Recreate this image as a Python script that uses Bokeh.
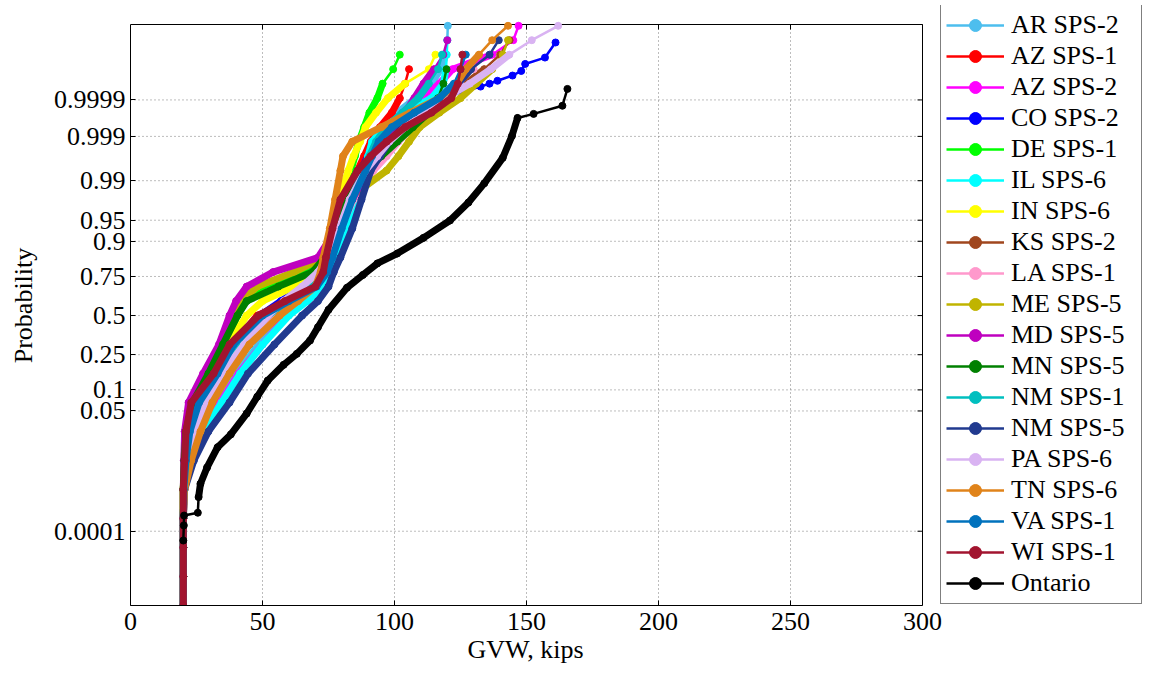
from statistics import NormalDist
from bokeh.plotting import figure
from bokeh.models import FixedTicker, Legend, LegendItem, Range1d, Title
from bokeh.embed import file_html
from bokeh.resources import INLINE

# ---------------- data ----------------
# probability levels at which the GVW values of each series were read
P_LEVELS = [2.87e-7, 3.4e-6, 3.17e-5, 2.33e-4, 0.00135, 0.00621, 0.02275, 0.06681,
            0.15866, 0.30854, 0.5, 0.59871, 0.69146, 0.77337, 0.84134, 0.93319,
            0.97725, 0.99379, 0.99702, 0.99865, 0.999423, 0.999767, 0.9999116,
            0.9999683, 0.9999893, 0.9999966, 0.99999898, 0.99999971]

AR_SPS2 = [20, 20, 20, 20, 20.3, 22.5, 26.5, 33, 40, 48.5, 58, 65, 71, 75, 77.5, 81, 84.5, 88, 90, 92.5, 96, 101, 108, 114, 117.5, 119.5, 120, 120.2]
AZ_SPS1 = [20, 20, 20, 20, 20.2, 21.5, 23.5, 27, 32.5, 39, 48, 61, 69, 73, 75, 78.5, 82, 86, 88.5, 91, 94.5, 99, 102, 104, 105.5]
AZ_SPS2 = [20, 20, 20, 20, 20.3, 22.5, 27, 34, 41, 50, 59.5, 66, 72, 75.5, 78, 81.5, 85.5, 89.5, 92, 95, 99, 103, 110, 117, 122, 137, 145, 147]
CO_SPS2 = [20, 20, 20, 20, 20.2, 21.5, 24, 28.5, 34, 41, 49, 57, 66, 72, 75.5, 79.5, 83, 87, 90, 93.5, 99, 107, 118]
CO_SPS2_TAIL_GVW = [132.6, 136, 139, 144.7, 148, 149.5, 157, 161]
CO_SPS2_TAIL_P = [0.9999608, 0.9999683, 0.9999743, 0.9999826, 0.9999877, 0.99999286, 0.9999957, 0.99999876]
DE_SPS1 = [20, 20, 20, 20, 20, 20.3, 20.8, 23, 29.5, 35.5, 40.5, 43.5, 50, 65, 73, 76.5, 80, 83.5, 85, 86.5, 88.5, 90.5, 93.5, 95.5, 99.5, 102]
IL_SPS6 = [20, 20, 20, 20, 20.3, 22.5, 27.5, 34.5, 41.5, 50, 60, 67, 73, 76, 78, 81.5, 85, 88.5, 90, 91.5, 96, 104, 114, 118.5, 119.5, 119.8, 120]
IN_SPS6 = [20, 20, 20, 20, 20, 20.5, 21.5, 24.5, 31, 37, 44, 50, 62, 70, 73.5, 76.5, 79, 82.5, 84.5, 87, 89, 93, 97.5, 104, 113, 115.5]
KS_SPS2 = [20, 20, 20, 20, 20.3, 22, 24.5, 29, 36.5, 45, 54, 61, 67.5, 73, 76, 79.5, 83, 88, 93, 98, 104, 111, 119, 127, 134, 140, 143.6]
LA_SPS1 = [20, 20, 20, 20, 20.3, 22, 24.5, 29, 35.5, 44, 53, 59, 66, 72, 75.5, 79.5, 84.5, 92, 97, 101.5, 107, 113, 119, 125, 130]
ME_SPS5 = [20, 20, 20, 20, 20, 20.3, 20.8, 22.5, 28.5, 34, 39, 42, 48, 62, 73, 77, 82, 97, 101.5, 105.5, 109.5, 117, 125, 131, 137, 141, 143]
MD_SPS5 = [20, 20, 20, 20, 20, 20.2, 20.5, 22, 27.5, 33.5, 37.5, 40, 44, 54, 71, 78, 84, 90, 93.5, 96.5, 100, 104, 107.5, 111, 115, 118.5, 120]
MN_SPS5 = [20, 20, 20, 20, 20, 20.4, 21, 23.5, 29.5, 35, 40.5, 44, 56, 69, 73.5, 77, 81, 89, 95, 101, 107, 113, 116.5, 118.5, 119.7]
NM_SPS1 = [20, 20, 20, 20, 20.2, 21.5, 24.5, 29.5, 35.5, 42, 52, 60, 69, 74, 76, 79.5, 83.5, 88, 90.5, 93, 97, 103, 109, 113, 116.5, 118]
NM_SPS5 = [20, 20, 20, 20, 20.5, 24, 29.5, 37.5, 44.5, 54.5, 65, 71, 75, 77, 79.5, 84, 87.5, 91, 94.5, 98, 103, 110, 118, 124, 129, 136, 139.5]
PA_SPS6 = [20, 20, 20, 20, 20.3, 22, 24.5, 28.5, 34.5, 43, 52, 58, 65, 71, 74.5, 79, 83, 89, 93.5, 98, 104, 112, 119, 128.5, 136.5, 143.5, 152, 162]
TN_SPS6 = [20, 20, 20, 20, 20.5, 23, 26.5, 31, 37.5, 45, 56.5, 63.5, 70, 72, 73, 75.5, 77.5, 79.5, 80.5, 84, 95, 106, 117, 123.5, 127, 132, 137, 143]
VA_SPS1 = [20, 20, 20, 20, 20.2, 21, 22.5, 26, 33, 39, 50, 60, 70.5, 74.5, 76.5, 80, 84, 89, 91.5, 94, 99, 107.5, 117, 122.5, 125, 127]
WI_SPS1 = [20, 20, 20, 20, 20, 20.5, 21, 23, 31.5, 37.5, 48.5, 58.5, 70, 73, 74, 76.5, 79.5, 86, 91, 97, 104, 114, 121.5, 124, 125, 125.7]

ONTARIO_GVW = [20, 20.2, 20.3, 25.5, 25.8, 26.5, 29, 33, 38, 44, 48, 52, 58, 63, 68, 71, 75, 82, 88,
               93.5, 101, 111, 121, 128, 134, 141, 144.5, 146.6, 152.7, 163.6, 165.5]
ONTARIO_P = [5.24e-5, 1.481e-4, 2.82e-4, 3.37e-4, 8.74e-4, 1.866e-3, 4.40e-3, 0.0116, 0.0202, 0.0455,
             0.0808, 0.1314, 0.1977, 0.2546, 0.3336, 0.4207, 0.5398, 0.6844, 0.7580, 0.8159, 0.8577,
             0.9099, 0.9495, 0.9744, 0.98870, 0.99674, 0.999032, 0.999673, 0.999748, 0.999852, 0.9999537]

NAMES = ["AR SPS-2", "AZ SPS-1", "AZ SPS-2", "CO SPS-2", "DE SPS-1", "IL SPS-6", "IN SPS-6",
         "KS SPS-2", "LA SPS-1", "ME SPS-5", "MD SPS-5", "MN SPS-5", "NM SPS-1", "NM SPS-5",
         "PA SPS-6", "TN SPS-6", "VA SPS-1", "WI SPS-1", "Ontario"]
COLORS = ["#4DBEEE", "#FF0000", "#FF00FF", "#0000FF", "#00FF00", "#00FFFF", "#FFFF00",
          "#A0461E", "#FF99CC", "#C0B400", "#BF00BF", "#008000", "#00BFBF", "#213A8F",
          "#D9B3F2", "#E0831A", "#0072BD", "#A2142F", "#000000"]

X_TICKS = [0, 50, 100, 150, 200, 250, 300]
Y_TICK_P = [0.0001, 0.05, 0.1, 0.25, 0.5, 0.75, 0.9, 0.95, 0.99, 0.999, 0.9999]
Y_TICK_LABELS = ["0.0001", "0.05", "0.1", "0.25", "0.5", "0.75", "0.9", "0.95", "0.99", "0.999", "0.9999"]

# ---------------- build series ----------------
grid_series = [AR_SPS2, AZ_SPS1, AZ_SPS2, None, DE_SPS1, IL_SPS6, IN_SPS6, KS_SPS2, LA_SPS1,
               ME_SPS5, MD_SPS5, MN_SPS5, NM_SPS1, NM_SPS5, PA_SPS6, TN_SPS6, VA_SPS1, WI_SPS1]
series = []
for name, g in zip(NAMES[:-1], grid_series):
    if g is None:  # CO SPS-2
        xs = CO_SPS2 + CO_SPS2_TAIL_GVW
        ps = P_LEVELS[:len(CO_SPS2)] + CO_SPS2_TAIL_P
    else:
        xs = list(g)
        ps = P_LEVELS[:len(g)]
    series.append((name, xs, ps))
series.append(("Ontario", ONTARIO_GVW, ONTARIO_P))

nd = NormalDist()
def probit(v):
    return nd.inv_cdf(v)

# thin (sparse) segments at start / end of each curve: style only
THIN = {"Ontario": (4, 3), "CO SPS-2": (0, 8)}

# ---------------- layout ----------------
FONT = "Liberation Serif"
X_MIN, X_MAX = 0, 300            # axis box limits (data)
Y_MIN, Y_MAX = -5.0, 5.02        # axis box limits (normal score)
PLOT_W, PLOT_H = 1148, 675
BOX_L, BOX_R, BOX_T, BOX_B = 130, 922, 24, 605   # axis box in pixels
FRAME_R, FRAME_T = PLOT_W, 5                     # drawing frame also holds the legend
px_x = (BOX_R - BOX_L) / (X_MAX - X_MIN)
px_y = (BOX_B - BOX_T) / (Y_MAX - Y_MIN)
x_end = X_MAX + (FRAME_R - BOX_R) / px_x
y_end = Y_MAX + (BOX_T - FRAME_T) / px_y

p = figure(width=PLOT_W, height=PLOT_H, x_range=Range1d(X_MIN, x_end), y_range=Range1d(Y_MIN, y_end),
           output_backend="svg", toolbar_location=None, title=None,
           min_border_left=BOX_L, min_border_right=0,
           min_border_top=FRAME_T, min_border_bottom=PLOT_H - BOX_B)
p.background_fill_color = "white"
p.border_fill_color = "white"
p.outline_line_color = None
p.xgrid.visible = False
p.ygrid.visible = False

xticker = FixedTicker(ticks=X_TICKS)
yvals = [probit(v) for v in Y_TICK_P]
yticker = FixedTicker(ticks=yvals)

p.xaxis.ticker = xticker
p.yaxis.ticker = yticker
p.yaxis.major_label_overrides = {yv: lab for yv, lab in zip(yvals, Y_TICK_LABELS)}
p.xaxis.bounds = (X_MIN, X_MAX)
p.yaxis.bounds = (Y_MIN, Y_MAX)

TICK_LEN = 5
for ax in (p.xaxis[0], p.yaxis[0]):
    ax.axis_line_color = "black"
    ax.major_tick_in = TICK_LEN
    ax.major_tick_out = 0
    ax.major_tick_line_color = "black"
    ax.minor_tick_line_color = None
    ax.major_label_text_font = FONT
    ax.major_label_text_font_size = "26px"
    ax.major_label_text_color = "black"
    ax.axis_label_text_font = FONT
    ax.axis_label_text_font_size = "26px"
    ax.axis_label_text_font_style = "normal"
    ax.axis_label_text_color = "black"

p.yaxis.axis_label = "Probability"
p.xaxis.major_label_standoff = 7
p.yaxis.major_label_standoff = 5
p.yaxis.axis_label_standoff = 13

# x-axis label centred under the axis box (the frame is wider because it holds the legend)
XLABEL = "GVW, kips"
XLABEL_W = 118
p.add_layout(Title(text=XLABEL, align="left", offset=(BOX_R - BOX_L) / 2 - XLABEL_W / 2,
                   standoff=0, text_font=FONT, text_font_size="26px", text_font_style="normal",
                   text_color="black"), "below")

# dotted grid inside the axis box
inner_x = X_TICKS[1:-1]
p.segment(x0=inner_x, y0=[Y_MIN] * len(inner_x), x1=inner_x, y1=[Y_MAX] * len(inner_x),
          line_color="#7a7a7a", line_dash="1 3", line_width=1)
p.segment(x0=[X_MIN] * len(yvals), y0=yvals, x1=[X_MAX] * len(yvals), y1=yvals,
          line_color="#7a7a7a", line_dash="1 3", line_width=1)

# top and right edges of the box, with mirror ticks
dx = TICK_LEN / px_x
dy = TICK_LEN / px_y
p.segment(x0=[X_MIN, X_MAX], y0=[Y_MAX, Y_MIN], x1=[X_MAX, X_MAX], y1=[Y_MAX, Y_MAX],
          line_color="black", line_width=1)
p.segment(x0=X_TICKS, y0=[Y_MAX] * len(X_TICKS), x1=X_TICKS, y1=[Y_MAX - dy] * len(X_TICKS),
          line_color="black", line_width=1)
p.segment(x0=[X_MAX] * len(yvals), y0=yvals, x1=[X_MAX - dx] * len(yvals), y1=yvals,
          line_color="black", line_width=1)

items = []
for (name, xs, ps), col in zip(series, COLORS):
    ys = [probit(v) for v in ps]
    n = len(xs)
    a, b = THIN.get(name, (0, 2))
    p.line(xs[a:n - b], ys[a:n - b], line_color=col, line_width=7,
           line_join="round", line_cap="round")
    r_line = p.line(xs, ys, line_color=col, line_width=2.5)
    r_dot = p.scatter(xs, ys, marker="circle", size=7, fill_color=col, line_color=col)
    items.append(LegendItem(label=name, renderers=[r_line, r_dot], index=0))

LEGEND_L = 940
legend = Legend(items=items, location=(LEGEND_L - BOX_L, 1), orientation="vertical",
                label_text_font=FONT, label_text_font_size="26px", label_text_color="black",
                glyph_width=58, glyph_height=30, label_height=30, label_standoff=7,
                label_width=125, spacing=1, padding=5, margin=0,
                border_line_color="black", border_line_width=1,
                background_fill_color="white", background_fill_alpha=1.0)
p.add_layout(legend)

open("out.html", "w").write(file_html(p, INLINE))
